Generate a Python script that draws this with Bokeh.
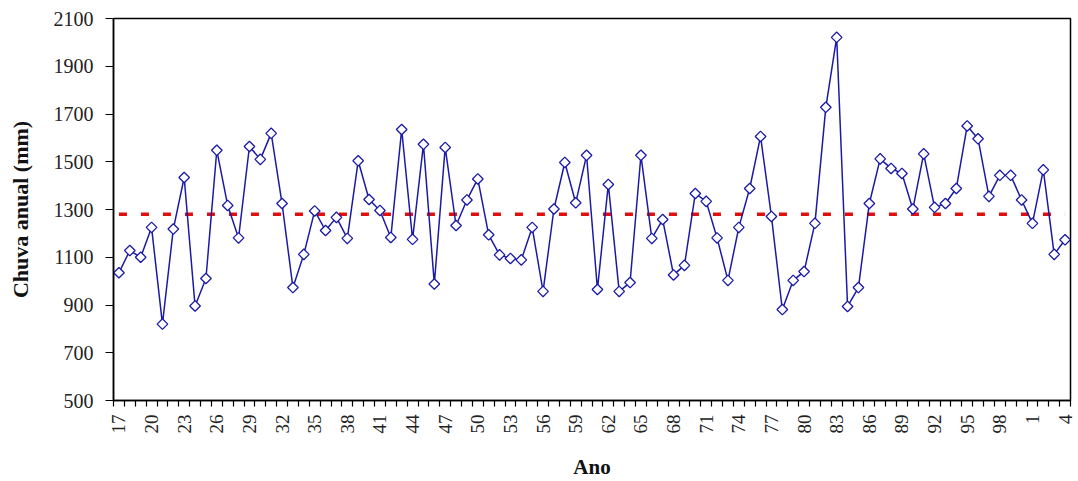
import math
from bokeh.plotting import figure
from bokeh.models import FixedTicker, Range1d
from bokeh.embed import file_html
from bokeh.resources import INLINE

years = list(range(1917, 2005))
rain = [1035, 1128, 1100, 1225, 820, 1218, 1434, 896, 1011, 1548,
        1317, 1181, 1564, 1510, 1619, 1325, 973, 1112, 1294, 1212,
        1267, 1179, 1504, 1342, 1296, 1183, 1635, 1175, 1573, 988,
        1560, 1233, 1340, 1428, 1194, 1110, 1095, 1089, 1225, 957,
        1302, 1497, 1328, 1527, 965, 1405, 957, 994, 1527, 1179,
        1258, 1026, 1066, 1367, 1334, 1181, 1003, 1225, 1388, 1606,
        1271, 881, 1003, 1040, 1242, 1728, 2021, 894, 973, 1325,
        1512, 1472, 1451, 1302, 1533, 1309, 1325, 1388, 1650, 1596,
        1355, 1443, 1443, 1340, 1242, 1466, 1112, 1173]
mean_rain = 1280

tick_years = [1917, 1920, 1923, 1926, 1929, 1932, 1935, 1938, 1941, 1944,
              1947, 1950, 1953, 1956, 1959, 1962, 1965, 1968, 1971, 1974,
              1977, 1980, 1983, 1986, 1989, 1992, 1995, 1998, 2001, 2004]
tick_labels = ["17", "20", "23", "26", "29", "32", "35", "38", "41", "44",
               "47", "50", "53", "56", "59", "62", "65", "68", "71", "74",
               "77", "80", "83", "86", "89", "92", "95", "98", "1", "4"]
y_ticks = [500, 700, 900, 1100, 1300, 1500, 1700, 1900, 2100]

FONT = "Liberation Serif"

p = figure(width=1078, height=481, output_backend="svg", toolbar_location=None,
           x_range=Range1d(years[0] - 0.5, years[-1] + 0.5),
           y_range=Range1d(500, 2100),
           min_border_left=113, min_border_right=8, min_border_top=18,
           min_border_bottom=81)
p.grid.visible = False
p.outline_line_color = "black"
p.outline_line_width = 1.5
p.background_fill_color = "white"
p.border_fill_color = "white"

# mean line
p.line([years[0], years[-1]], [mean_rain, mean_rain], line_color="#e01010",
       line_width=3.5, line_dash="8 14")

# series
p.line(years, rain, line_color="#1a1aa6", line_width=1.5)
p.scatter(years, rain, marker="square", angle=math.pi / 4, size=7.5,
          fill_color="white", line_color="#1a1aa6", line_width=1.3)

# x axis
xa = p.xaxis[0]
xa.ticker = FixedTicker(ticks=tick_years,
                        minor_ticks=[y - 0.5 for y in years] + [years[-1] + 0.5])
xa.major_label_overrides = {t: l for t, l in zip(tick_years, tick_labels)}
xa.major_label_orientation = math.pi / 2
xa.major_tick_line_color = None
xa.minor_tick_out = 6
xa.minor_tick_in = 0
xa.minor_tick_line_color = "black"
xa.minor_tick_line_width = 1.2
xa.axis_line_color = "black"
xa.axis_line_width = 1.5
xa.major_label_text_font = FONT
xa.major_label_text_font_size = "19px"
xa.major_label_text_color = "#222222"
xa.major_label_standoff = 8
xa.axis_label = "Ano"
xa.axis_label_text_font = FONT
xa.axis_label_text_font_style = "bold"
xa.axis_label_text_font_size = "21px"
xa.axis_label_text_color = "#111111"
xa.axis_label_standoff = 18

# y axis
ya = p.yaxis[0]
ya.ticker = FixedTicker(ticks=y_ticks, minor_ticks=[])
ya.major_tick_out = 8
ya.major_tick_in = 0
ya.major_tick_line_color = "black"
ya.major_tick_line_width = 1.2
ya.minor_tick_line_color = None
ya.axis_line_color = "black"
ya.axis_line_width = 1.5
ya.major_label_text_font = FONT
ya.major_label_text_font_size = "20px"
ya.major_label_text_color = "#222222"
ya.major_label_standoff = 12
ya.axis_label = "Chuva anual (mm)"
ya.axis_label_text_font = FONT
ya.axis_label_text_font_style = "bold"
ya.axis_label_text_font_size = "22px"
ya.axis_label_text_color = "#111111"
ya.axis_label_standoff = 18

open("out.html", "w").write(file_html(p, INLINE))
